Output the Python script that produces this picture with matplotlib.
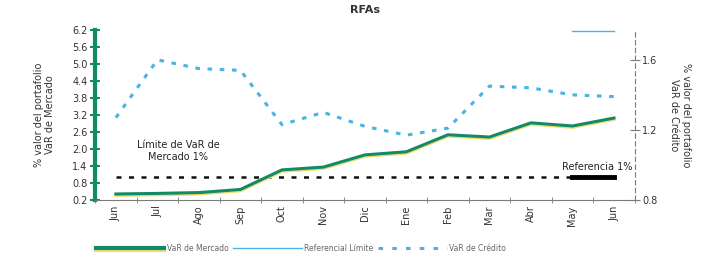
import numpy as np
import matplotlib
matplotlib.use('Agg')
import matplotlib.pyplot as plt
import matplotlib.patheffects as pe

months = ['Jun', 'Jul', 'Ago', 'Sep', 'Oct', 'Nov', 'Dic', 'Ene', 'Feb', 'Mar', 'Abr', 'May', 'Jun']
var_mercado = [0.41, 0.43, 0.46, 0.57, 1.26, 1.36, 1.79, 1.90, 2.50, 2.42, 2.92, 2.81, 3.09]
var_credito = [1.27, 1.60, 1.55, 1.54, 1.23, 1.30, 1.22, 1.17, 1.21, 1.45, 1.44, 1.40, 1.39]
limite_mercado = [1.0] * 13
referencia = [np.nan] * 11 + [1.0, 1.0]
referencial_limite = [np.nan] * 11 + [1.765, 1.765]

green = '#128a68'
blue = '#4ab4e0'
grey = '#7a7a7a'
shadow = [pe.SimpleLineShadow(offset=(0, -1.0), shadow_color='#f2dc70', alpha=1), pe.Normal()]

fig = plt.figure(figsize=(7.1, 2.6), dpi=100)
ax = fig.add_axes([0.134, 0.231, 0.76, 0.654])
ax2 = ax.twinx()
x = np.arange(len(months))

ax.plot(x, limite_mercado, color='#111111', linestyle=(0, (2, 3)), linewidth=1.8, zorder=3)
ax.plot(x, referencia, color='black', linewidth=3.5, zorder=4)
ax.plot(x, var_mercado, color=green, linewidth=2.2, zorder=5, path_effects=shadow)
ax2.plot(x, var_credito, color=blue, linestyle=(0, (1.5, 2.5)), linewidth=2.2)
ax2.plot(x, referencial_limite, color=blue, linewidth=1.0)

ax.set_xlim(-0.5, 12.5)
ax.set_ylim(0.2, 6.2)
ax.set_yticks(np.arange(0.2, 6.3, 0.6))
ax.set_yticklabels(['%.1f' % v for v in np.arange(0.2, 6.3, 0.6)])
ax2.set_ylim(0.8, 1.771)
ax2.set_yticks([0.8, 1.2, 1.6])
ax2.set_yticklabels(['0.8', '1.2', '1.6'])

ax.set_xticks(x)
ax.set_xticklabels(months, rotation=90, fontsize=7, color='#333333')
ax.set_xticks(np.arange(-0.5, 13, 1), minor=True)
ax.tick_params(axis='x', which='major', length=0, pad=4)
ax.tick_params(axis='x', which='minor', length=5, direction='inout', color=grey)
ax.tick_params(axis='y', length=7, direction='inout', color=green, width=1.5, labelsize=7, labelcolor='#333333', pad=2)
ax2.tick_params(axis='y', length=7, direction='inout', color=grey, labelsize=7, labelcolor='#333333', pad=2)

for a in (ax, ax2):
    a.spines['top'].set_visible(False)
    a.set_facecolor('none')
ax.spines['left'].set_color(green)
ax.spines['left'].set_linewidth(3)
ax.spines['right'].set_visible(False)
ax.spines['bottom'].set_color(grey)
ax2.spines['left'].set_visible(False)
ax2.spines['bottom'].set_visible(False)
ax2.spines['right'].set_color(grey)
ax2.spines['right'].set_linestyle((0, (4, 3)))

ax.set_ylabel('% valor del portafolio\nVaR de Mercado', fontsize=7, color='#333333', labelpad=12)
ax2.set_ylabel('% valor del portafolio\nVaR de Crédito', fontsize=7, color='#333333', rotation=270, labelpad=24)
ax.set_title('RFAs', fontsize=8, fontweight='bold', color='#333333', pad=12)

ax.text(1.5, 1.55, 'Límite de VaR de\nMercado 1%', ha='center', va='bottom', fontsize=7, color='#222222')
ax.text(11.6, 1.2, 'Referencia 1%', ha='center', va='bottom', fontsize=7, color='#222222')

h1, = ax.plot([], [], color=green, linewidth=3, path_effects=shadow)
h2, = ax.plot([], [], color=blue, linewidth=1.0)
h3, = ax.plot([], [], color=blue, linestyle=(0, (1.5, 3)), linewidth=2.2)
fig.legend([h1, h2, h3], ['VaR de Mercado', 'Referencial Límite', 'VaR de Crédito'],
           loc='lower left', bbox_to_anchor=(0.125, 0.0), ncol=3, frameon=False,
           fontsize=5.5, handlelength=9, columnspacing=0.6, handletextpad=0.3,
           labelcolor='#666666')

fig.savefig('out.png', dpi=100, facecolor='white')
